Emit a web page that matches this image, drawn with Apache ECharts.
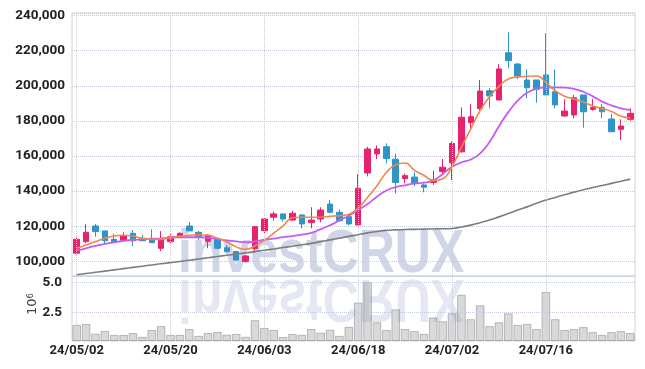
<!DOCTYPE html>
<html><head><meta charset="utf-8">
<script src="https://cdn.jsdelivr.net/npm/echarts@6/dist/echarts.min.js"></script>
<style>html,body{margin:0;padding:0;background:#fff}#c{width:645px;height:369px}</style>
</head><body><div id="c"></div>
<script>
const dates = ['24/05/02','24/05/03','24/05/07','24/05/08','24/05/09','24/05/10','24/05/13','24/05/14','24/05/16','24/05/17',
'24/05/20','24/05/21','24/05/22','24/05/23','24/05/24','24/05/27','24/05/28','24/05/29','24/05/30','24/05/31',
'24/06/03','24/06/04','24/06/05','24/06/07','24/06/10','24/06/11','24/06/12','24/06/13','24/06/14','24/06/17',
'24/06/18','24/06/19','24/06/20','24/06/21','24/06/24','24/06/25','24/06/26','24/06/27','24/06/28','24/07/01',
'24/07/02','24/07/03','24/07/04','24/07/05','24/07/08','24/07/09','24/07/10','24/07/11','24/07/12','24/07/15',
'24/07/16','24/07/17','24/07/18','24/07/19','24/07/22','24/07/23','24/07/24','24/07/25','24/07/26','24/07/29'];
const opens = [104600,111200,120100,117300,112500,112100,115900,113100,113100,107400,111200,114400,120100,116500,111400,112500,107700,105500,99800,107300,117400,125100,127000,123500,126400,122000,124100,132600,127900,125400,120700,150300,161200,165300,158200,147100,148000,143500,144900,151100,156000,162400,179000,187000,197200,191900,218800,212400,203300,203300,206200,196600,182800,183400,194800,186600,187700,181100,175200,180900];
const closes = [112500,116500,116900,111700,111200,114400,111700,111700,110600,112700,114000,115900,117300,113700,114800,107400,105500,100700,103000,119700,124100,127000,124100,127400,121300,123500,129200,127900,123100,121300,141600,164000,164000,158500,144900,148800,144200,142200,146300,153600,167200,182100,182400,197000,194200,209600,214300,205600,198900,198000,194800,189100,185600,193200,185200,187700,185200,173800,177100,184300];
const lows = [104000,110300,114000,109300,110800,111700,108700,111500,110600,105800,110300,113700,117300,112100,107400,106800,104700,100400,99300,106000,116000,123100,122600,123100,118800,118800,122200,127400,122600,120500,120500,148400,158200,155800,138700,144400,142800,139300,143500,149600,146300,161900,175200,184300,187200,191900,210000,203900,192900,190400,194800,187200,182400,181500,176100,185800,181500,173800,169100,180100];
const highs = [114000,121000,121200,117400,115500,116500,117800,115000,118200,117200,115900,116500,122400,117300,115400,112600,109200,106000,103600,120200,124500,128300,127000,128800,126700,130800,130800,134900,129600,126400,149600,165300,166000,167200,161300,150100,150700,144400,151600,158300,168300,187700,189500,203300,198600,212300,230500,213000,209400,203300,229900,209400,192300,194800,194800,192600,189600,183900,180900,187200];
const maShort = [107400,109300,111200,113100,114400,114800,114400,113100,112500,112500,113600,114300,114800,115100,114800,113100,111000,108200,106800,108800,112000,116000,120200,124800,125100,125100,125100,125600,126000,126800,130400,136400,143000,150600,155000,156000,151800,149000,146000,147000,154000,165000,175500,186000,193800,199700,203900,205000,205400,205600,202000,197200,194000,192500,190800,188500,187000,185300,182600,181700];
const maMid = [106000,107400,108700,109900,110800,111700,112100,112500,112700,113100,113400,113700,113700,113700,113400,112600,111900,111300,110800,111300,112300,112900,113800,114300,115200,116200,118300,120500,123400,125900,129200,132600,136800,140300,142300,143300,144400,144800,146100,149700,153900,156300,158000,161500,168000,177000,185000,191500,196000,198300,199000,199150,199000,198300,196600,194000,191000,188800,187200,186300];
const maLong = [92300,93000,93700,94400,95100,95800,96500,97200,97900,98600,99200,99900,100600,101300,102000,102700,103400,104100,104800,105500,106300,107000,107800,108600,109400,110200,111200,112200,113200,114200,115100,116200,117000,117600,117900,118100,118200,118300,118400,118500,118700,119500,120600,122000,123500,125300,127200,129200,131000,133000,134900,136400,137900,139400,140800,142000,143200,144400,145600,146800];
const volumes = [1.50,1.58,0.78,1.00,0.68,0.68,0.83,0.52,1.08,1.40,0.68,0.68,1.16,0.60,0.84,0.92,0.70,0.76,0.52,1.89,1.25,1.08,0.50,0.76,0.68,1.16,0.86,1.10,0.60,1.34,3.34,5.03,1.72,1.08,2.78,1.16,0.99,0.76,2.11,1.80,2.45,3.98,1.97,3.11,1.40,1.72,2.45,1.50,1.58,1.16,4.21,1.97,1.08,1.16,1.32,0.91,0.68,0.91,0.99,0.83];
const labelDates = ['24/05/02','24/05/20','24/06/03','24/06/18','24/07/02','24/07/16'];
const volTicks = [2.5, 5.0];

const FONT = "Roboto, 'Liberation Sans', sans-serif";
const UP = '#e6246e', DOWN = '#2f95c6';
const GRIDC = '#c6cbdc';
const candleData = opens.map((o, i) => [o, closes[i], lows[i], highs[i]]);
const vLines = labelDates.map(d => ({ xAxis: d }));
const chart = echarts.init(document.getElementById('c'));
chart.setOption({
  animation: false,
  backgroundColor: '#fff',
  grid: [
    { left: 72, top: 13, width: 563, height: 263, show: true, borderColor: '#d2d2d6', borderWidth: 1 },
    { left: 72, top: 276, width: 563, height: 64.7, show: true, borderColor: '#d2d2d6', borderWidth: 1 }
  ],
  xAxis: [
    { type: 'category', gridIndex: 0, data: dates, boundaryGap: true,
      axisLine: { show: false }, axisTick: { show: false }, axisLabel: { show: false }, splitLine: { show: false } },
    { type: 'category', gridIndex: 1, data: dates, boundaryGap: true,
      axisLine: { show: false }, axisTick: { show: false }, splitLine: { show: false },
      axisLabel: { interval: (i, v) => labelDates.indexOf(v) >= 0, margin: 4, color: '#222',
        fontFamily: FONT, fontSize: 13, fontWeight: 'bold' } }
  ],
  yAxis: [
    { type: 'value', gridIndex: 0, min: 91600, max: 241500, splitNumber: 7, scale: true,
      axisLine: { show: false }, axisTick: { show: false },
      axisLabel: { showMinLabel: false, showMaxLabel: false, margin: 7, color: '#222',
        fontFamily: FONT, fontSize: 13.5, fontWeight: 'bold',
        formatter: v => v.toLocaleString('en-US') },
      splitLine: { lineStyle: { type: 'dotted', color: GRIDC, width: 1 } } },
    { type: 'value', gridIndex: 1, min: 0.2, max: 5.52,
      axisLine: { show: false }, axisTick: { show: false }, axisLabel: { show: false }, splitLine: { show: false } }
  ],
  graphic: [
    { type: 'text', x: 178, y: 255, z: 0, silent: true, scaleX: 0.82,
      style: { text: 'investCRUX', font: "bold 61px 'Liberation Sans', Arial, sans-serif", fill: '#d0d6e7',
        textAlign: 'left', textVerticalAlign: 'middle' } },
    { type: 'text', x: 178, y: 297, z: 0, silent: true, scaleX: 0.82, scaleY: -1,
      style: { text: 'investCRUX', font: "bold 61px 'Liberation Sans', Arial, sans-serif", fill: '#d0d6e7', opacity: 0.55,
        textAlign: 'left', textVerticalAlign: 'middle' } },
    { type: 'text', x: 33, y: 304, rotation: Math.PI / 2, silent: true,
      style: { text: '{a|10}{b|6}', fill: '#444', textAlign: 'center', textVerticalAlign: 'middle',
        rich: { a: { fontSize: 13, fontFamily: "'DejaVu Sans'", fill: '#444' }, b: { fontSize: 8.5, fontFamily: "'DejaVu Sans'", fill: '#444', verticalAlign: 'top' } } } }
  ],
  series: [
    { type: 'candlestick', xAxisIndex: 0, yAxisIndex: 0, data: candleData, barWidth: 6,
      itemStyle: { color: UP, color0: DOWN, borderColor: UP, borderColor0: DOWN, borderWidth: 1 },
      markLine: { silent: true, symbol: ['none', 'none'], label: { show: false },
        lineStyle: { type: 'dotted', color: GRIDC, width: 1 }, data: vLines } },
    { type: 'line', xAxisIndex: 0, yAxisIndex: 0, data: maLong, smooth: true, symbol: 'none',
      lineStyle: { color: '#7d7d7d', width: 1.6 } },
    { type: 'line', xAxisIndex: 0, yAxisIndex: 0, data: maMid, smooth: true, symbol: 'none',
      lineStyle: { color: '#c75af0', width: 1.8 } },
    { type: 'line', xAxisIndex: 0, yAxisIndex: 0, data: maShort, smooth: true, symbol: 'none',
      lineStyle: { color: '#f0874c', width: 1.6 } },
    { type: 'bar', xAxisIndex: 1, yAxisIndex: 1, data: volumes, barWidth: '92%',
      itemStyle: { color: 'rgba(128,128,128,0.3)', borderColor: 'rgba(105,105,105,0.4)', borderWidth: 1 },
      markLine: { silent: true, symbol: ['none', 'none'],
        lineStyle: { type: 'dotted', color: GRIDC, width: 1 },
        label: { show: false },
        data: vLines.concat(volTicks.map(t => ({ yAxis: t,
          label: { show: true, position: 'start', distance: 10, formatter: t.toFixed(1),
            color: '#222', fontFamily: FONT, fontSize: 13.5, fontWeight: 'bold' } }))) } }
  ]
});
</script>
</body></html>
